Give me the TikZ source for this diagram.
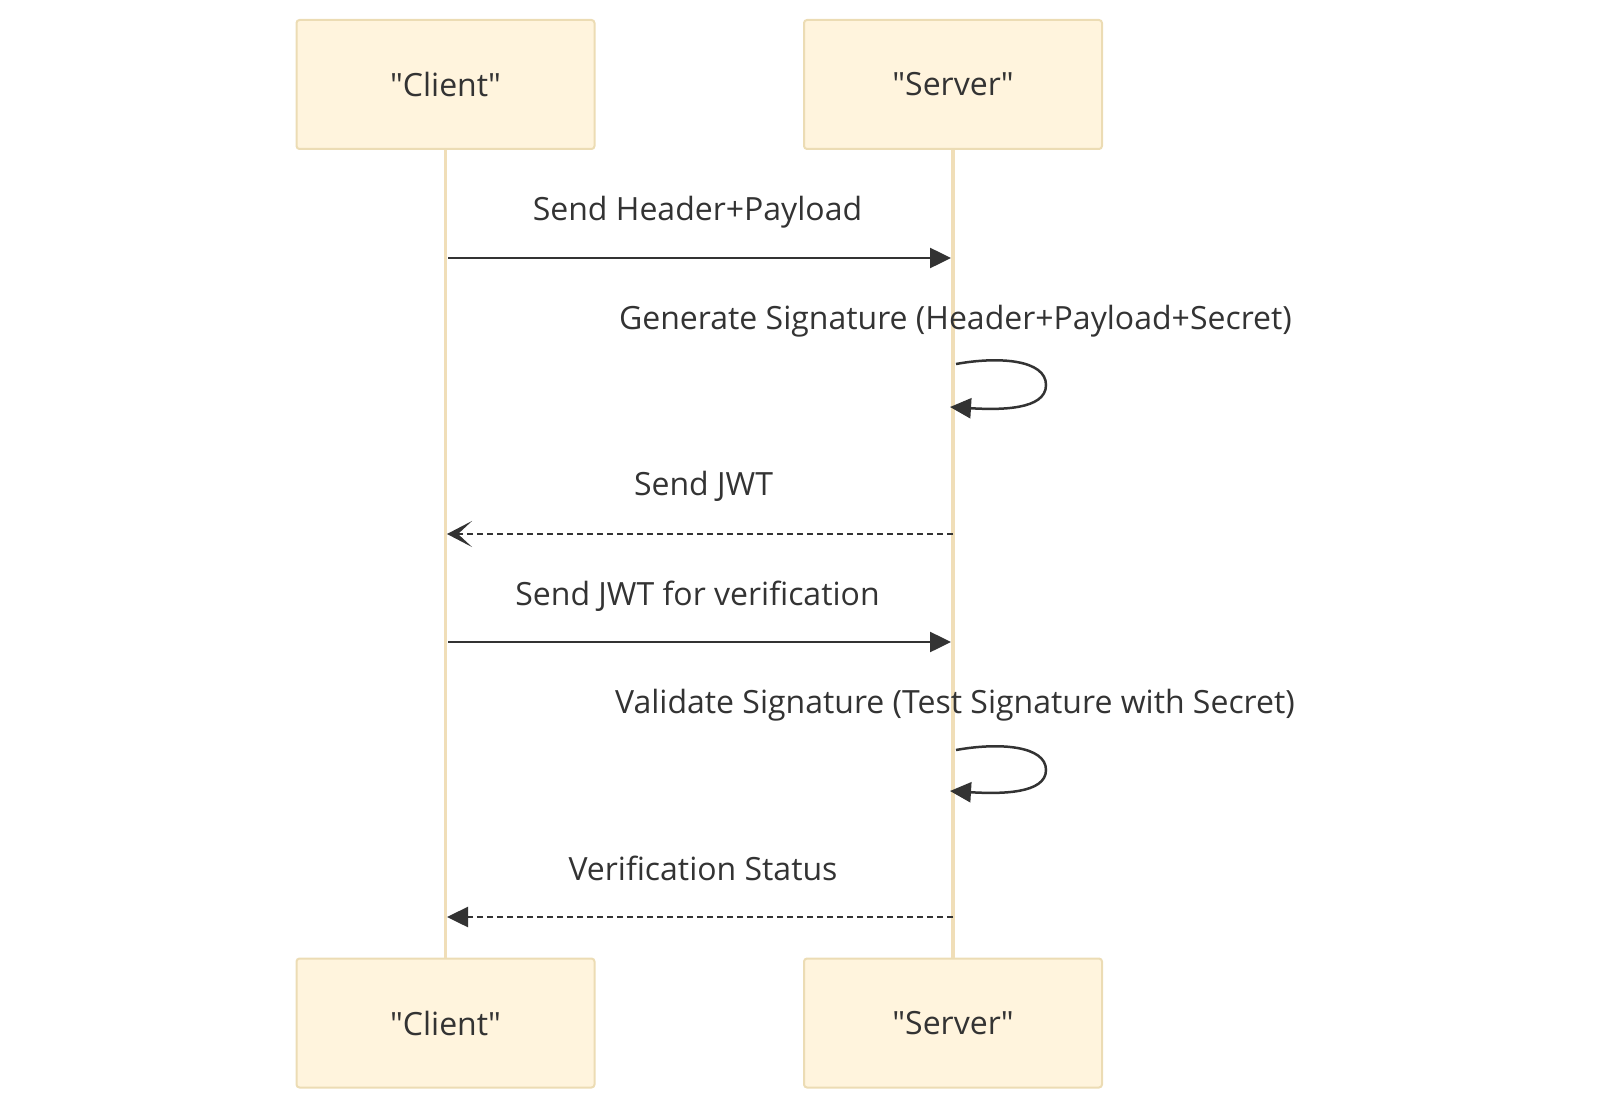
\documentclass[tikz,border=0pt]{standalone}
\usepackage{fontspec}
\setmainfont{Open Sans}
\usetikzlibrary{arrows.meta}
\definecolor{boxfill}{RGB}{255,244,221}
\definecolor{boxline}{RGB}{236,220,180}
\definecolor{lifeline}{RGB}{240,222,184}
\definecolor{ink}{RGB}{51,51,51}
\begin{document}
\begin{tikzpicture}[x=1pt,y=-1pt,
  actor/.style={draw=boxline,line width=2pt,fill=boxfill,rounded corners=3pt,minimum width=298pt,minimum height=129pt,inner sep=0pt,font=\fontsize{32}{36}\selectfont,text=ink},
  life/.style={draw=lifeline,line width=3.5pt},
  msg/.style={draw=ink,line width=2.5pt},
  solidtip/.style={-{Triangle[length=21pt,width=20pt]}},
  opentip/.style={-{Stealth[length=25pt,width=26pt,inset=14pt]}},
  lbl/.style={font=\fontsize{32}{36}\selectfont,text=ink,inner sep=0pt,anchor=base}]
\useasboundingbox (0,0) rectangle (1600,1110);
\node[actor] (ct) at (445.5,84.5) {\textquotedbl Client\textquotedbl};
\node[actor] (st) at (953,84.5) {\textquotedbl Server\textquotedbl};
\node[actor] (cb) at (445.5,1023) {\textquotedbl Client\textquotedbl};
\node[actor] (sb) at (953,1023) {\textquotedbl Server\textquotedbl};
\draw[life] (ct.south) -- (cb.north);
\draw[life] (st.south) -- (sb.north);
% coordinates on lifelines
\coordinate (c1) at (448,258); \coordinate (s1) at (951,258);
\coordinate (g1) at (956,364); \coordinate (g2) at (950,407);
\coordinate (s3) at (953,534); \coordinate (c3) at (447,534);
\coordinate (c4) at (448,642); \coordinate (s4) at (951,642);
\coordinate (v1) at (956,750); \coordinate (v2) at (950,791);
\coordinate (s6) at (953,917); \coordinate (c6) at (447,917);
\draw[msg,solidtip] (c1) -- (s1);
\node[lbl] (l1) at (697.5,220) {Send Header+Payload};
\draw[msg,solidtip] (g1) .. controls (1000,356) and (1046,360) .. (1046,385) .. controls (1046,410) and (1000,410) .. (g2);
\node[lbl] (l2) at (955.5,329) {Generate Signature (Header+Payload+Secret)};
\draw[msg,dash pattern=on 6pt off 4pt,opentip] (s3) -- (c3);
\node[lbl] (l3) at (703.5,495.5) {Send JWT};
\draw[msg,solidtip] (c4) -- (s4);
\node[lbl] (l4) at (697.5,605) {Send JWT for verification};
\draw[msg,solidtip] (v1) .. controls (1000,742) and (1046,746) .. (1046,770) .. controls (1046,794) and (1000,794) .. (v2);
\node[lbl] (l5) at (955,713) {Validate Signature (Test Signature with Secret)};
\draw[msg,dash pattern=on 6pt off 4pt,solidtip] (s6) -- (c6);
\node[lbl] (l6) at (703,880) {Verification Status};
\end{tikzpicture}
\end{document}
